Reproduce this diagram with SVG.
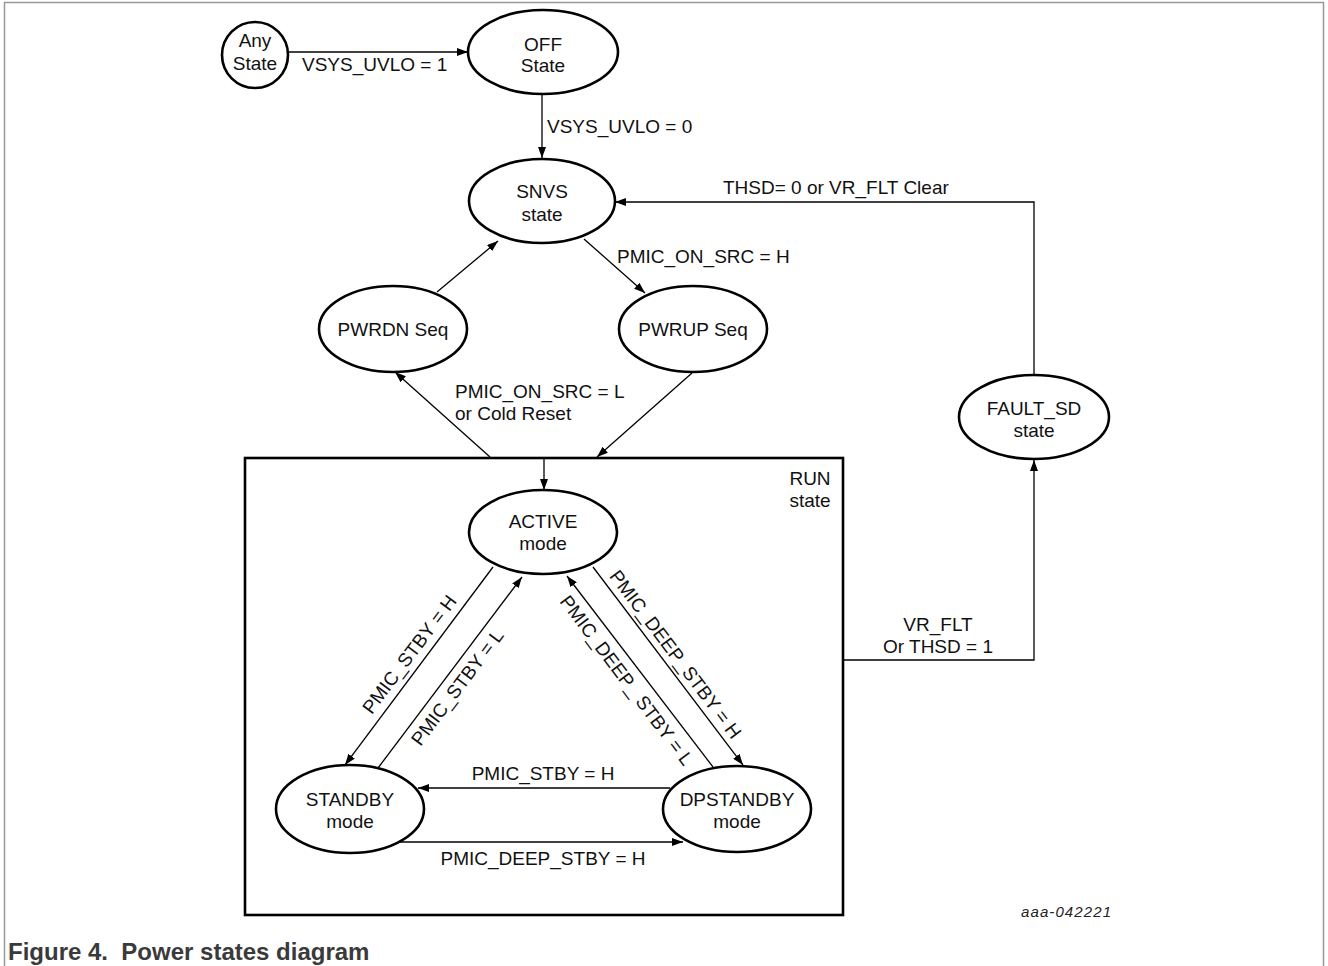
<svg xmlns="http://www.w3.org/2000/svg" width="1328" height="966" viewBox="0 0 1328 966">
<defs>
<marker id="ah" markerUnits="userSpaceOnUse" markerWidth="11" markerHeight="8" refX="11" refY="4" orient="auto">
<path d="M0,0 L11,4 L0,8 z" fill="#000"/>
</marker>
<style>
.node{fill:#fff;stroke:#000;stroke-width:2.6}
.t{font-family:"Liberation Sans",Arial,sans-serif;font-size:19px;fill:#111;text-anchor:middle}
.ts{font-family:"Liberation Sans",Arial,sans-serif;font-size:19px;fill:#111}
.ca{fill:none;stroke:#000;stroke-width:1.3;marker-end:url(#ah)}
</style>
</defs>
<rect x="0" y="0" width="1328" height="966" fill="#fff"/>
<rect x="4.5" y="2.5" width="1319" height="980" fill="none" stroke="#999" stroke-width="1.5"/>

<g id="run-state">
<rect x="245" y="458" width="598" height="457" fill="none" stroke="#000" stroke-width="2.6"/>
<text class="t" x="810" y="485">RUN</text>
<text class="t" x="810" y="507">state</text>
</g>

<g id="connectors">
<path class="ca" d="M289,52 H468"/>
<path class="ca" d="M542,94 V158"/>
<path class="ca" d="M1034,375 V202 H615"/>
<path class="ca" d="M584,239 L645,293"/>
<path class="ca" d="M437,292 L498,241"/>
<path class="ca" d="M490,457 L395,372"/>
<path class="ca" d="M692,373 L597,457"/>
<path class="ca" d="M544,459 V490"/>
<path class="ca" d="M843,660 H1034 V460"/>
<path class="ca" d="M493,567 L345,765"/>
<path class="ca" d="M378,768 L522,577"/>
<path class="ca" d="M593,567 L743,765"/>
<path class="ca" d="M713,767 L567,576"/>
<path class="ca" d="M670,788 H418"/>
<path class="ca" d="M400,842 H683"/>
</g>

<g id="labels">
<text class="ts" x="302" y="71">VSYS_UVLO = 1</text>
<text class="ts" x="547" y="133">VSYS_UVLO = 0</text>
<text class="ts" x="723" y="194">THSD= 0 or VR_FLT Clear</text>
<text class="ts" x="617" y="263">PMIC_ON_SRC = H</text>
<text class="ts" x="455" y="398">PMIC_ON_SRC = L</text>
<text class="ts" x="455" y="420">or Cold Reset</text>
<text class="t" x="938" y="631">VR_FLT</text>
<text class="t" x="938" y="653">Or THSD = 1</text>
<text class="t" transform="translate(409,654) rotate(-53)" x="0" y="7">PMIC_STBY = H</text>
<text class="t" transform="translate(457,687) rotate(-53)" x="0" y="7">PMIC_STBY = L</text>
<text class="t" transform="translate(676,654) rotate(53)" x="0" y="7">PMIC_DEEP_STBY = H</text>
<text class="t" transform="translate(627,680) rotate(53)" x="0" y="7">PMIC_DEEP_ STBY = L</text>
<text class="t" x="543" y="780">PMIC_STBY = H</text>
<text class="t" x="543" y="865">PMIC_DEEP_STBY = H</text>
</g>

<g id="any-state">
<circle class="node" cx="255" cy="55" r="33"/>
<text class="t" x="255" y="47">Any</text>
<text class="t" x="255" y="70">State</text>
</g>
<g id="off-state">
<ellipse class="node" cx="543" cy="52" rx="75" ry="42"/>
<text class="t" x="543" y="51">OFF</text>
<text class="t" x="543" y="72">State</text>
</g>
<g id="snvs-state">
<ellipse class="node" cx="542" cy="201" rx="73" ry="42"/>
<text class="t" x="542" y="198">SNVS</text>
<text class="t" x="542" y="221">state</text>
</g>
<g id="pwrdn-seq">
<ellipse class="node" cx="393" cy="329" rx="74" ry="43"/>
<text class="t" x="393" y="336">PWRDN Seq</text>
</g>
<g id="pwrup-seq">
<ellipse class="node" cx="693" cy="329" rx="74" ry="43"/>
<text class="t" x="693" y="336">PWRUP Seq</text>
</g>
<g id="fault-sd-state">
<ellipse class="node" cx="1034" cy="417" rx="75" ry="42"/>
<text class="t" x="1034" y="415">FAULT_SD</text>
<text class="t" x="1034" y="437">state</text>
</g>
<g id="active-mode">
<ellipse class="node" cx="543" cy="532" rx="74" ry="42"/>
<text class="t" x="543" y="528">ACTIVE</text>
<text class="t" x="543" y="550">mode</text>
</g>
<g id="standby-mode">
<ellipse class="node" cx="350" cy="809" rx="74" ry="44"/>
<text class="t" x="350" y="806">STANDBY</text>
<text class="t" x="350" y="828">mode</text>
</g>
<g id="dpstandby-mode">
<ellipse class="node" cx="737" cy="809" rx="74" ry="43"/>
<text class="t" x="737" y="806">DPSTANDBY</text>
<text class="t" x="737" y="828">mode</text>
</g>

<text x="1021" y="917" font-family="Liberation Sans, Arial, sans-serif" font-size="15" font-style="italic" letter-spacing="1.1" fill="#222">aaa-042221</text>
<text x="8" y="960" xml:space="preserve" style="white-space:pre" font-family="Liberation Sans, Arial, sans-serif" font-size="24" font-weight="bold" fill="#3a3a3a">Figure 4.  Power states diagram</text>
</svg>
